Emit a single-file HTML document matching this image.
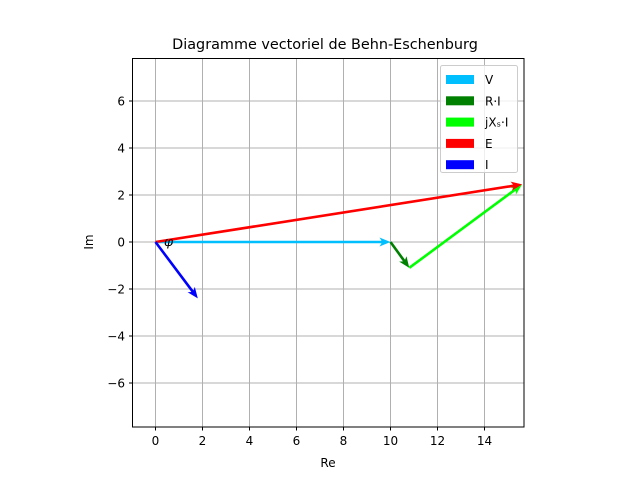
<!DOCTYPE html>
<html><head><meta charset="utf-8"><style>
body{margin:0;background:#fff}
svg{display:block;font-family:"DejaVu Sans","Liberation Sans",sans-serif}
</style></head><body>
<svg id="c" width="640" height="480" viewBox="0 0 640 480">
<rect width="640" height="480" fill="#fff"/>
<text x="325" y="49" text-anchor="middle" font-size="14.4">Diagramme vectoriel de Behn-Eschenburg</text>
<g id="grid"></g>
<g id="vecs"></g>
<rect x="132.5" y="58.5" width="391.5" height="368.5" fill="none" stroke="#000" stroke-width="1"/>
<g id="ticks"></g>
<text x="328" y="467" text-anchor="middle" font-size="12">Re</text>
<text transform="translate(93,242) rotate(-90)" text-anchor="middle" font-size="12">Im</text>
<text x="164" y="246" font-size="13" font-style="italic" font-family="DejaVu Serif,serif">φ</text>
<g id="legend"></g>
</svg>
<script>
const xTicks=[0,2,4,6,8,10,12,14];
const yTicks=[-6,-4,-2,0,2,4,6];
const names=["V","R·I","jXₛ·I","E","I"];
const colors=["#00bfff","#008000","#00ff00","#ff0000","#0000ff"];
const startRe=[0,10,10.8,0,0];
const startIm=[0,0,-1.1,0,0];
const endRe=[10,10.8,15.6,15.6,1.8];
const endIm=[0,-1.1,2.45,2.45,-2.4];
const NS="http://www.w3.org/2000/svg";
const X=v=>155.5+v*23.5, Y=v=>242-v*23.5;
function mk(t,a,p){const e=document.createElementNS(NS,t);for(const k in a)e.setAttribute(k,a[k]);p.appendChild(e);return e;}
const grid=document.getElementById('grid'),ticks=document.getElementById('ticks');
xTicks.forEach(t=>{const x=X(t);
 const g=mk('line',{x1:x,x2:x,y1:58.5,y2:427,stroke:'#b0b0b0','stroke-width':1},grid);
 
 mk('line',{x1:x,x2:x,y1:427,y2:430.5,stroke:'#000'},ticks);
 const l=mk('text',{x:x,y:445,'text-anchor':'middle','font-size':12},ticks);l.textContent=t;
 });
yTicks.forEach(t=>{const y=Y(t);
 const g=mk('line',{x1:132.5,x2:524,y1:y,y2:y,stroke:'#b0b0b0','stroke-width':1},grid);
 
 mk('line',{x1:129,x2:132.5,y1:y,y2:y,stroke:'#000'},ticks);
 const l=mk('text',{x:125,y:y+4.5,'text-anchor':'end','font-size':12},ticks);l.textContent=(t<0?'−'+(-t):t);
 });
const vecs=document.getElementById('vecs');
names.forEach((n,i)=>{const x1=X(startRe[i]),y1=Y(startIm[i]),x2=X(endRe[i]),y2=Y(endIm[i]);
 const dx=x2-x1,dy=y2-y1,L=Math.hypot(dx,dy),ux=dx/L,uy=dy/L,px=-uy,py=ux;
 const w=1.3,hl=11,hw=4.5,ha=9;
 const bx=x2-ux*ha,by=y2-uy*ha, cx=x2-ux*hl,cy=y2-uy*hl;
 const pts=[[x1+px*w,y1+py*w],[bx+px*w,by+py*w],[cx+px*hw,cy+py*hw],[x2,y2],[cx-px*hw,cy-py*hw],[bx-px*w,by-py*w],[x1-px*w,y1-py*w]];
 const p=mk('polygon',{points:pts.map(q=>q.join(',')).join(' '),fill:colors[i]},vecs);
 
 });
const lg=document.getElementById('legend');
const box=mk('rect',{x:440.5,y:65.5,width:77,height:107,rx:2,fill:'#fff','fill-opacity':0.8,stroke:'#ccc'},lg);

names.forEach((n,i)=>{const y=75+i*21.3;
 const s=mk('rect',{x:446,y:y,width:28,height:9,fill:colors[i]},lg);
 
 const t=mk('text',{x:485,y:y+9,'font-size':12},lg);t.textContent=n;
 });
</script>
</body></html>
